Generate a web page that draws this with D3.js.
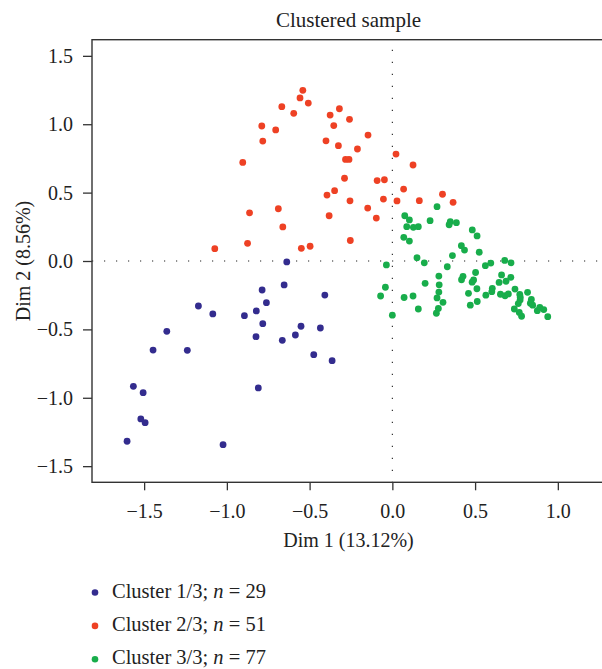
<!DOCTYPE html>
<html>
<head>
<meta charset="utf-8">
<script src="https://cdn.jsdelivr.net/npm/d3@7"></script>
<style>
  body { margin: 0; background: white; }
  svg { display: block; font-family: 'Liberation Serif', 'Times New Roman', serif; }
</style>
</head>
<body>
<main></main>
<script>
// Dim 1 / Dim 2 coordinates
const cluster1 = [
  [-0.638, -0.007], [-0.654, -0.175], [-0.787, -0.212], [-0.761, -0.305],
  [-1.172, -0.329], [-1.085, -0.387], [-0.894, -0.400], [-0.822, -0.365],
  [-0.783, -0.458], [-0.552, -0.477], [-1.363, -0.514], [-0.824, -0.553],
  [-0.665, -0.580], [-0.586, -0.541], [-1.446, -0.651], [-1.239, -0.653],
  [-1.565, -0.916], [-1.506, -0.963], [-0.810, -0.928], [-1.520, -1.155],
  [-1.494, -1.182], [-1.603, -1.318], [-1.023, -1.343], [-0.408, -0.249],
  [-0.435, -0.490], [-0.475, -0.685], [-0.364, -0.729]
];

const cluster2 = [
  [-0.541, 1.248], [-0.558, 1.192], [-0.508, 1.155], [-0.668, 1.128],
  [-0.596, 1.080], [-0.376, 1.067], [-0.320, 1.113], [-0.259, 1.036],
  [-0.789, 0.987], [-0.705, 0.958], [-0.354, 0.990], [-0.783, 0.877],
  [-0.401, 0.879], [-0.326, 0.843], [-0.283, 0.743], [-0.262, 0.743],
  [-0.904, 0.721], [-0.289, 0.605], [-0.395, 0.482], [-0.349, 0.514],
  [-0.256, 0.440], [-0.863, 0.352], [-0.689, 0.382], [-0.382, 0.331],
  [-0.662, 0.249], [-0.254, 0.150], [-1.073, 0.090], [-0.875, 0.129],
  [-0.550, 0.093], [-0.497, 0.108], [-0.147, 0.921], [-0.211, 0.819],
  [0.022, 0.782], [0.125, 0.702], [-0.092, 0.588], [-0.048, 0.594],
  [-0.054, 0.453], [0.068, 0.526], [0.303, 0.488], [0.367, 0.429],
  [0.028, 0.439], [0.163, 0.441], [-0.149, 0.387], [-0.097, 0.314]
];

const cluster3 = [
  [0.270, 0.397], [0.075, 0.331], [0.103, 0.300], [0.228, 0.295],
  [0.087, 0.251], [0.127, 0.246], [0.157, 0.251], [0.350, 0.287],
  [0.343, 0.265], [0.387, 0.280], [0.069, 0.173], [0.103, 0.146],
  [0.483, 0.227], [0.512, 0.183], [0.417, 0.112], [0.436, 0.080],
  [0.525, 0.064], [0.363, 0.040], [0.149, 0.024], [0.193, -0.013],
  [0.332, -0.042], [-0.036, -0.029], [0.281, -0.110], [0.503, -0.084],
  [0.427, -0.112], [0.418, -0.137], [0.491, -0.139], [0.482, -0.155],
  [0.198, -0.163], [0.283, -0.174], [0.281, -0.227], [-0.042, -0.192],
  [-0.071, -0.256], [0.071, -0.267], [0.125, -0.256], [0.270, -0.270],
  [0.306, -0.302], [0.511, -0.203], [0.460, -0.236], [0.513, -0.296],
  [0.471, -0.323], [0.157, -0.351], [0.278, -0.347], [0.266, -0.382],
  [0.000, -0.396], [0.562, -0.034], [0.595, -0.015], [0.679, 0.004],
  [0.717, -0.013], [0.660, -0.102], [0.716, -0.119], [0.645, -0.157],
  [0.687, -0.148], [0.604, -0.200], [0.601, -0.224], [0.565, -0.250],
  [0.653, -0.243], [0.681, -0.254], [0.701, -0.241], [0.741, -0.205],
  [0.770, -0.245], [0.817, -0.229], [0.772, -0.285], [0.761, -0.311],
  [0.840, -0.281], [0.834, -0.309], [0.848, -0.323], [0.737, -0.351],
  [0.767, -0.376], [0.781, -0.404], [0.876, -0.363], [0.891, -0.340],
  [0.915, -0.355], [0.939, -0.407], [0.773, -0.265]
];

const clusterNames = ['Cluster 1/3', 'Cluster 2/3', 'Cluster 3/3'];
const clusterSizes = [29, 51, 77];
const xTicks = [-1.5, -1.0, -0.5, 0.0, 0.5, 1.0];
const yTicks = [-1.5, -1.0, -0.5, 0.0, 0.5, 1.0, 1.5];

const width = 602;
const height = 669;
const plotLeft = 92;
const plotRight = 605;
const plotTop = 39.7;
const plotBottom = 482.3;
const colors = ['#332c8e', '#ee4124', '#18ad4b'];
const ink = '#333';

const xScale = d3.scaleLinear()
  .domain([-1.815, 1.285])
  .range([plotLeft, plotRight])

const yScale = d3.scaleLinear()
  .domain([-1.618, 1.618])
  .range([plotBottom, plotTop])

const fmt = d3.format('.1f');

const svg = d3.select('main')
  .append('svg')
  .attr('width', width)
  .attr('height', height)

// Title
svg.append('text')
  .text('Clustered sample')
  .attr('x', (plotLeft + plotRight) / 2)
  .attr('y', 27)
  .attr('text-anchor', 'middle')
  .style('font-size', '21px')
  .style('fill', '#222')

// Reference lines through the origin
svg.append('line')
  .attr('x1', plotLeft).attr('x2', plotRight)
  .attr('y1', yScale(0)).attr('y2', yScale(0))
  .style('stroke', '#222')
  .style('stroke-width', 1.1)
  .style('stroke-dasharray', '1.2,10.8')
  .style('stroke-dashoffset', -12)

svg.append('line')
  .attr('x1', xScale(0)).attr('x2', xScale(0))
  .attr('y1', plotTop).attr('y2', plotBottom)
  .style('stroke', '#222')
  .style('stroke-width', 1.1)
  .style('stroke-dasharray', '1.2,10.8')
  .style('stroke-dashoffset', -10)

// x-axis
const xAxis = svg.append('g')
  .attr('transform', `translate(0, ${plotBottom})`)
  .call(d3.axisBottom(xScale).tickValues(xTicks).tickFormat(fmt).tickSize(8).tickSizeOuter(0).tickPadding(14))

// y-axis
const yAxis = svg.append('g')
  .attr('transform', `translate(${plotLeft}, 0)`)
  .call(d3.axisLeft(yScale).tickValues(yTicks).tickFormat(fmt).tickSize(9).tickSizeOuter(0).tickPadding(10))

;[xAxis, yAxis].forEach(g => {
  g.select('.domain').remove()
  g.selectAll('line').style('stroke', ink).style('stroke-width', 1.3)
  g.selectAll('text')
    .style('font-size', '20px')
    .style('font-family', "'Liberation Serif', 'Times New Roman', serif")
    .style('fill', '#222')
})

// Plot box
svg.append('rect')
  .attr('x', plotLeft)
  .attr('y', plotTop)
  .attr('width', plotRight - plotLeft)
  .attr('height', plotBottom - plotTop)
  .style('fill', 'none')
  .style('stroke', ink)
  .style('stroke-width', 1.4)

// Axis titles
svg.append('text')
  .text('Dim 1 (13.12%)')
  .attr('x', (plotLeft + plotRight) / 2)
  .attr('y', 547)
  .attr('text-anchor', 'middle')
  .style('font-size', '20px')
  .style('fill', '#222')

svg.append('text')
  .text('Dim 2 (8.56%)')
  .attr('transform', `translate(30, ${(plotTop + plotBottom) / 2}) rotate(-90)`)
  .attr('text-anchor', 'middle')
  .style('font-size', '20px')
  .style('fill', '#222')

// Points
;[cluster1, cluster2, cluster3].forEach((pts, i) => {
  svg.append('g')
    .selectAll('circle')
    .data(pts)
    .enter()
    .append('circle')
    .attr('cx', d => xScale(d[0]))
    .attr('cy', d => yScale(d[1]))
    .attr('r', 3.4)
    .style('fill', colors[i])
})

// Legend
const legend = svg.append('g')
  .selectAll('g')
  .data(clusterNames)
  .enter()
  .append('g')
  .attr('transform', (d, i) => `translate(95, ${592.5 + i * 33.4})`)

legend.append('circle')
  .attr('r', 3.3)
  .style('fill', (d, i) => colors[i])

const label = legend.append('text')
  .attr('x', 17)
  .attr('y', 5)
  .style('font-size', '20.5px')
  .style('fill', '#222')

label.append('tspan').text(d => `${d}; `)
label.append('tspan').text('n').style('font-style', 'italic')
label.append('tspan').text((d, i) => ` = ${clusterSizes[i]}`)
</script>
</body>
</html>
